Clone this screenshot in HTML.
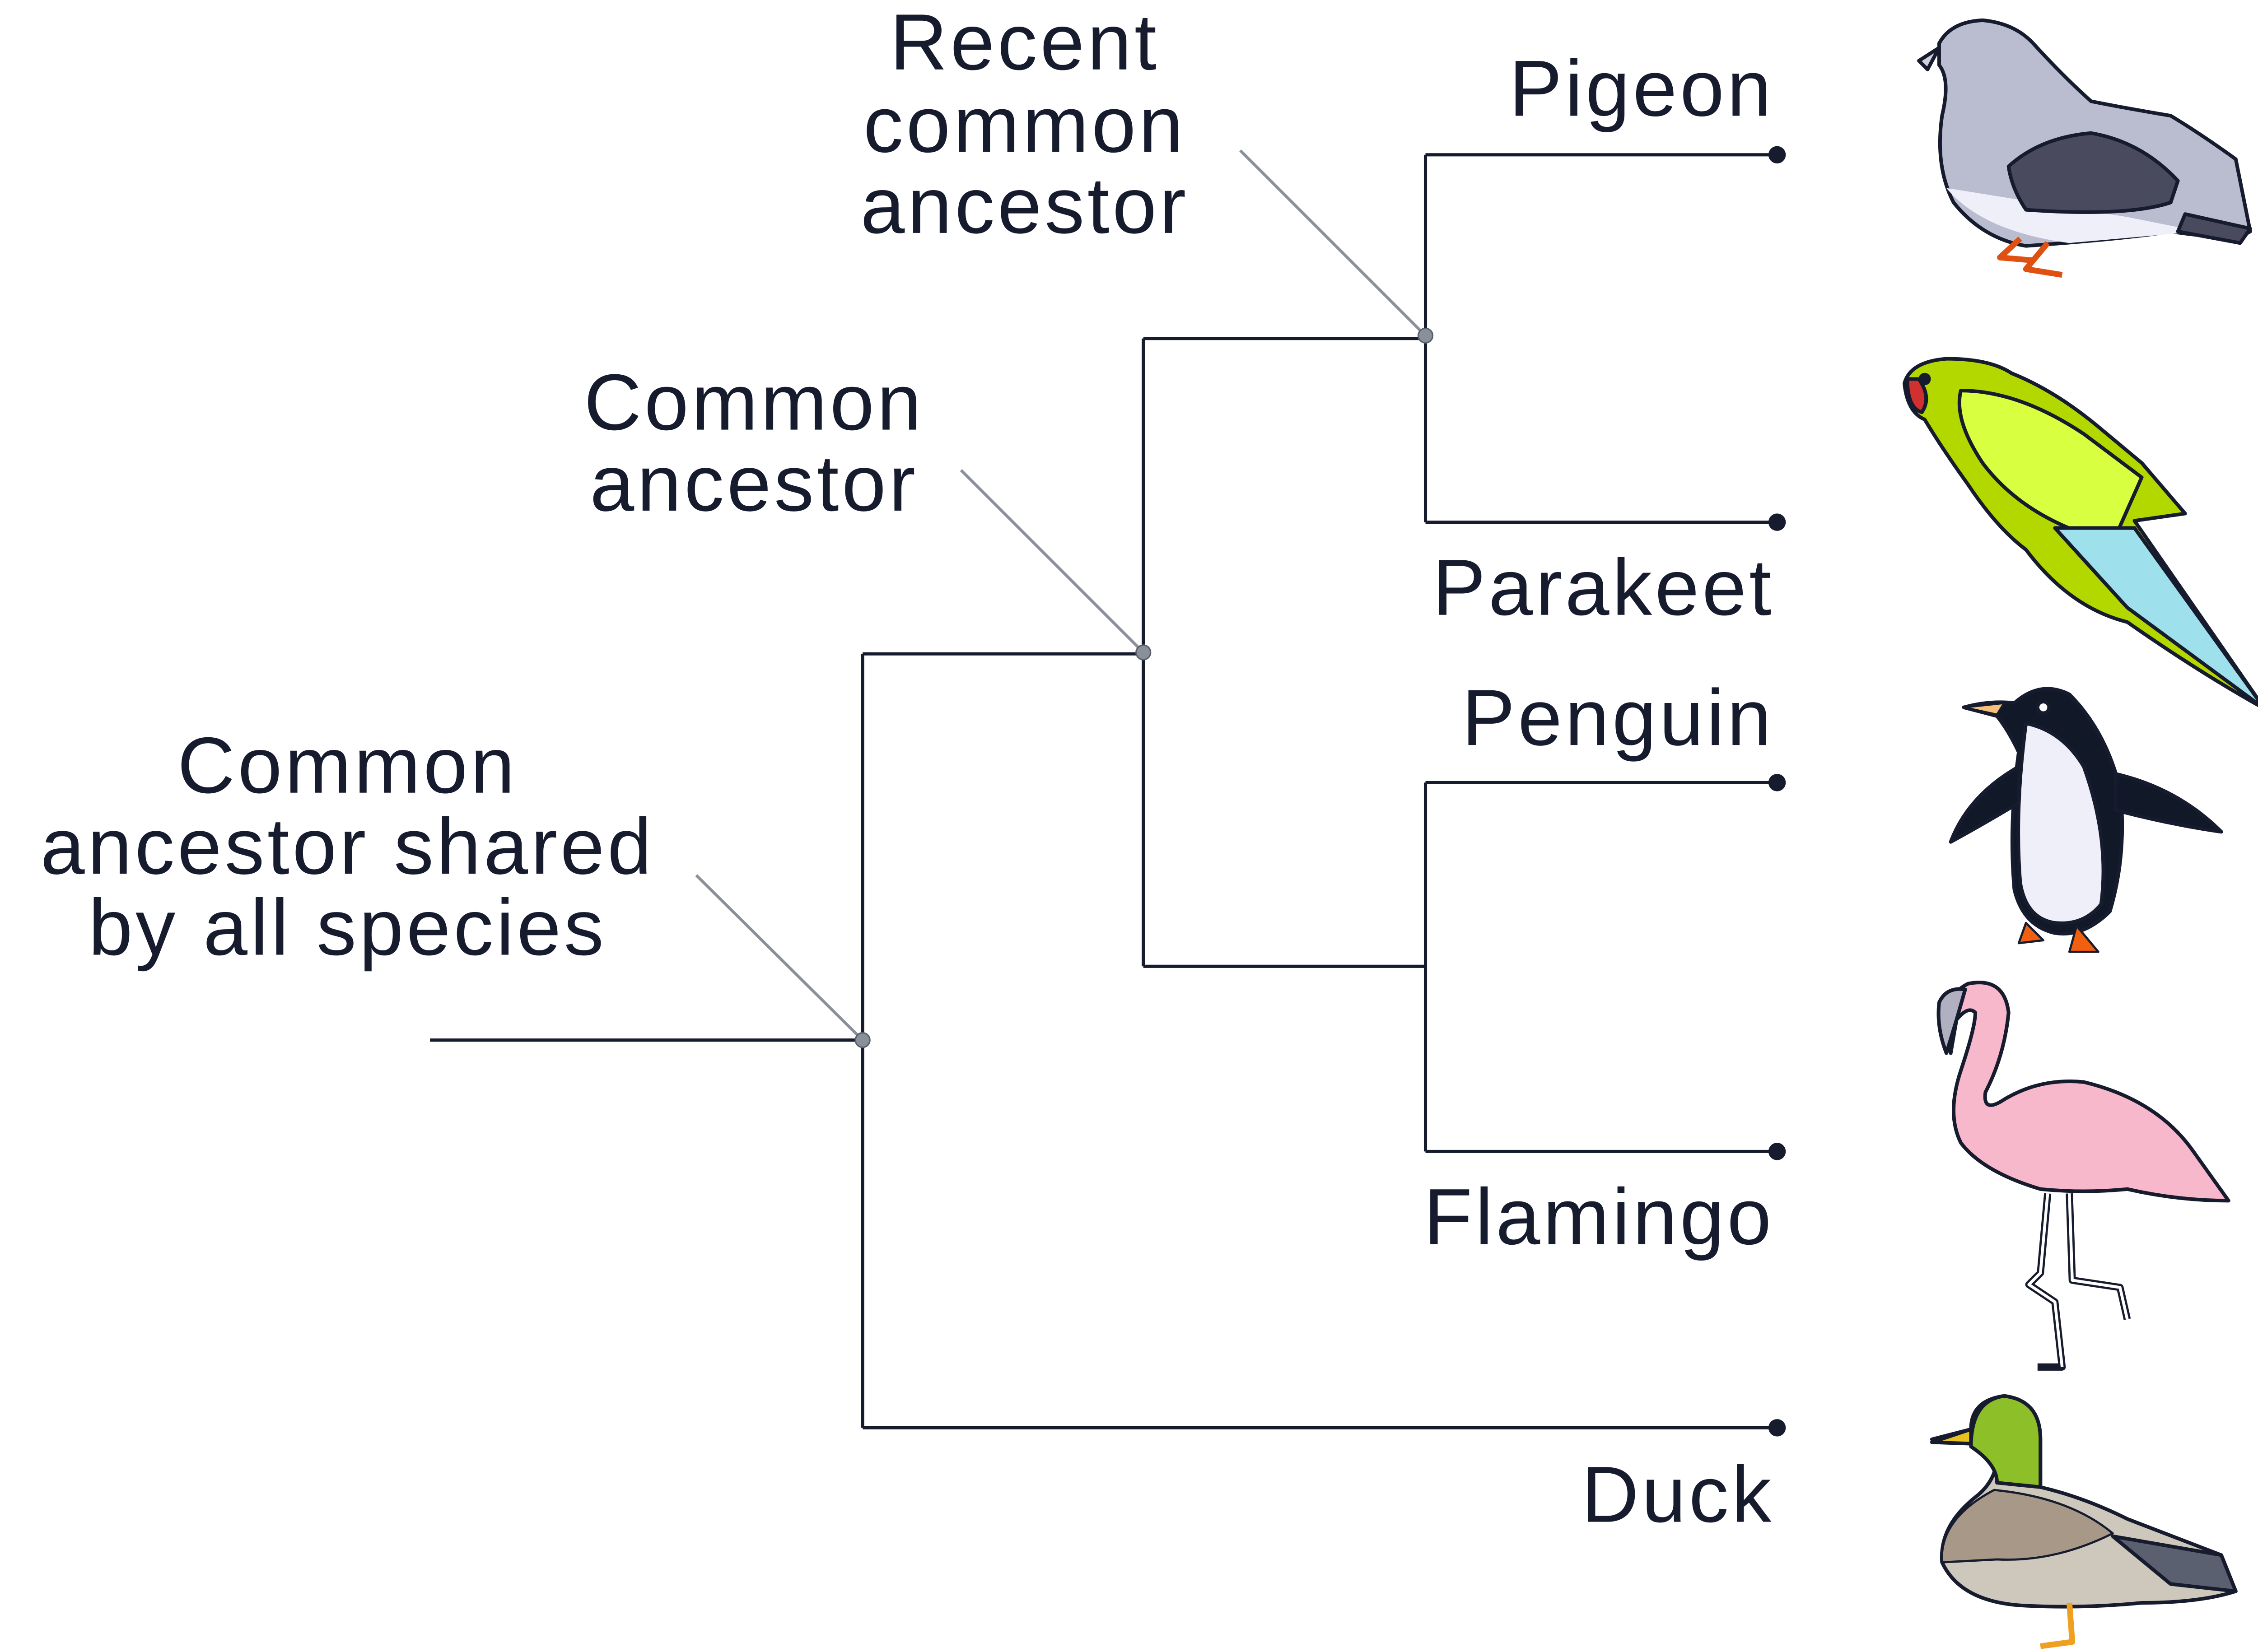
<!DOCTYPE html>
<html><head><meta charset="utf-8"><style>
html,body{margin:0;padding:0;background:#fff;}
svg{display:block;}
text{font-family:"Liberation Sans",sans-serif;fill:#161b2e;font-size:55px;letter-spacing:2px;}
</style></head><body>
<svg width="5025" height="3659" viewBox="0 0 1568 1142" xmlns="http://www.w3.org/2000/svg">
<rect width="1568" height="1142" fill="#fff"/>
<g stroke="#161b2e" stroke-width="2.2" fill="none">
<path d="M297,719H596M596,452V987M596,452H790M596,987H1228M790,234V668M790,234H985M790,668H985M985,107V361M985,107H1228M985,361H1228M985,541V796M985,541H1228M985,796H1228"/>
</g>
<g stroke="#8a9099" stroke-width="2">
<line x1="857" y1="104" x2="985" y2="232"/>
<line x1="664" y1="325" x2="790" y2="451"/>
<line x1="481" y1="605" x2="596" y2="719"/>
</g>
<g fill="#8a9099" stroke="#5a606b" stroke-width="1">
<circle cx="985" cy="232" r="5"/><circle cx="790" cy="451" r="5"/><circle cx="596" cy="719" r="5"/>
</g>
<g fill="#161b2e">
<circle cx="1228" cy="107" r="6"/><circle cx="1228" cy="361" r="6"/><circle cx="1228" cy="541" r="6"/><circle cx="1228" cy="796" r="6"/><circle cx="1228" cy="987" r="6"/>
</g>
<g text-anchor="end">
<text x="1226" y="80">Pigeon</text>
<text x="1226" y="425">Parakeet</text>
<text x="1226" y="515">Penguin</text>
<text x="1226" y="860">Flamingo</text>
<text x="1226" y="1052">Duck</text>
</g>
<g text-anchor="middle">
<text x="708" y="48">Recent</text><text x="708" y="105">common</text><text x="708" y="161">ancestor</text>
<text x="521" y="297">Common</text><text x="521" y="353">ancestor</text>
<text x="240" y="548">Common</text><text x="240" y="604">ancestor shared</text><text x="240" y="660">by all species</text>
</g>
<g stroke="#161b2e" stroke-width="2.5" stroke-linejoin="round">
<!-- pigeon -->
<path d="M1340,30 Q1348,15 1370,14 Q1392,16 1405,30 Q1425,52 1445,70 Q1470,75 1500,80 Q1520,92 1545,110 L1555,160 Q1545,167 1500,160 Q1470,165 1400,170 Q1370,165 1350,140 Q1337,115 1342,80 Q1348,55 1340,45 Z" fill="#babcd0"/>
<path d="M1345,130 Q1370,160 1430,168 L1520,160 L1470,150 Z" fill="#efeffa" stroke="none"/>
<path d="M1388,115 Q1410,95 1445,92 Q1480,98 1505,125 L1500,140 Q1470,150 1400,145 Q1390,130 1388,115 Z" fill="#4a4a5e"/>
<path d="M1510,148 L1555,158 L1548,168 L1505,160 Z" fill="#4a4a5e"/>
<path d="M1396,165 L1382,178 L1405,180 M1415,168 L1400,186 L1425,190" stroke="#e05010" stroke-width="4" fill="none"/>
<path d="M1340,33 L1326,42 L1332,48 Z" fill="#d0d0dc"/>
<!-- parakeet -->
<path d="M1316,265 Q1320,250 1345,248 Q1375,248 1390,258 Q1420,270 1450,295 L1480,320 L1510,355 L1475,360 L1565,490 Q1520,465 1470,430 Q1430,420 1400,380 Q1380,365 1360,335 Q1342,310 1330,290 Q1318,285 1316,265 Z" fill="#b2d800"/>
<path d="M1355,270 Q1395,270 1440,300 L1480,330 L1460,375 Q1400,360 1370,320 Q1350,290 1355,270 Z" fill="#d8ff40"/>
<path d="M1420,365 L1475,365 L1565,490 L1470,420 Z" fill="#9ee0ec"/>
<path d="M1318,262 L1326,262 Q1335,275 1328,285 Q1318,282 1318,262 Z" fill="#d03030"/>
<circle cx="1330" cy="262" r="3" fill="#161b2e"/>
<!-- penguin -->
<path d="M1357,489 Q1375,484 1392,486 Q1410,470 1430,480 Q1455,505 1465,545 Q1470,590 1458,630 Q1440,648 1420,645 Q1398,640 1392,615 Q1388,570 1395,520 Q1388,505 1380,495 Z" fill="#111827"/>
<path d="M1400,500 Q1425,505 1440,530 Q1458,580 1452,625 Q1440,640 1420,638 Q1400,635 1396,610 Q1392,560 1400,500 Z" fill="#efeffa"/>
<path d="M1395,530 Q1360,550 1348,582 Q1370,570 1395,555 Z" fill="#111827"/>
<path d="M1462,535 Q1505,545 1535,575 Q1500,570 1462,560 Z" fill="#111827"/>
<path d="M1357,489 L1385,486 L1380,494 Z" fill="#f5c07a" stroke-width="1.5"/>
<circle cx="1412" cy="489" r="4" fill="#fff"/>
<path d="M1400,638 L1395,652 L1412,650 Z M1435,640 L1430,658 L1450,658 Z" fill="#f06010" stroke-width="1.5"/>
<!-- flamingo -->
<path d="M1345,720 Q1340,690 1360,680 Q1385,675 1388,700 Q1385,730 1372,755 Q1370,770 1385,760 Q1410,745 1440,748 Q1490,760 1515,795 L1540,830 Q1505,830 1470,822 Q1440,825 1410,822 Q1370,810 1355,790 Q1345,770 1355,740 Q1365,710 1365,700 Q1360,695 1352,705 L1348,728 Z" fill="#f7b8cc"/>
<path d="M1340,693 Q1345,682 1358,684 L1352,705 L1345,728 Q1338,710 1340,693 Z" fill="#b0b0c0"/>
<path d="M1415,825 L1410,880 L1402,888 L1420,900 L1425,945 L1408,945 M1430,825 L1432,885 L1465,890 L1470,912" fill="none" stroke="#161b2e" stroke-width="5"/>
<path d="M1415,825 L1410,880 L1402,888 L1420,900 L1425,945 M1430,825 L1432,885 L1465,890 L1470,912" fill="none" stroke="#fff" stroke-width="2"/>
<!-- duck -->
<path d="M1335,995 L1362,988 Q1362,968 1385,965 Q1410,968 1410,995 L1410,1028 Q1440,1035 1470,1050 L1535,1075 L1545,1100 Q1520,1108 1480,1108 Q1440,1112 1400,1110 Q1355,1108 1342,1080 Q1340,1055 1365,1035 Q1378,1025 1380,1010 L1362,998 Z" fill="#cec8bc"/>
<path d="M1362,1000 Q1362,968 1385,965 Q1410,968 1410,995 L1410,1028 L1380,1025 Q1380,1012 1362,1000 Z" fill="#8dc028"/>
<path d="M1342,1080 Q1340,1050 1378,1030 Q1430,1035 1460,1060 Q1420,1080 1380,1078 Z" fill="#a89888" stroke-width="1.5"/>
<path d="M1335,997 L1362,988 L1362,998 Z" fill="#e8c020"/>
<path d="M1460,1062 L1535,1075 L1545,1100 L1500,1095 Z" fill="#5a6070"/>
<path d="M1430,1108 L1432,1135 L1410,1138" fill="none" stroke="#f0a020" stroke-width="4"/>
</g>
</svg>
</body></html>
